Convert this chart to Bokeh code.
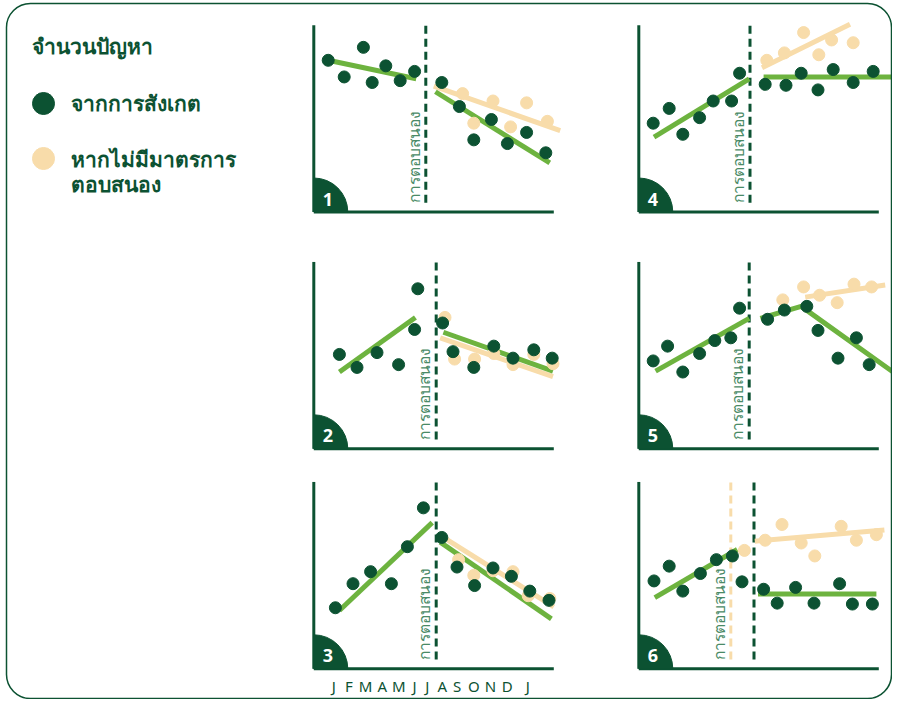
import math
from bokeh.plotting import figure
from bokeh.models import Range1d, BoxAnnotation
from bokeh.core.properties import value
from bokeh.embed import file_html
from bokeh.resources import INLINE

DARK = "#0c5232"
GREEN = "#6db33f"
PEACH = "#f8dcaa"
LABEL = "#4a8a66"
FONT = "Noto Sans"

# ---------------- data ----------------
legend_title = "จำนวนปัญหา"
legend_obs = "จากการสังเกต"
legend_cf = ["หากไม่มีมาตรการ", "ตอบสนอง"]
response_label = "การตอบสนอง"

month_labels = ["J", "F", "M", "A", "M", "J", "J", "A", "S", "O", "N", "D", "J"]
month_pos = [1.25, 2.19, 3.23, 4.28, 5.31, 6.29, 7.09, 8.03, 8.96, 10.0, 11.04, 12.09, 13.38]

# panel 1
p1_obs_x = [0.9, 1.9, 3.1, 3.65, 4.5, 5.4, 6.3, 8.0, 9.1, 10.0, 11.1, 12.1, 13.3, 14.5]
p1_obs_y = [8.2, 7.3, 8.9, 7.0, 7.9, 7.1, 7.6, 7.0, 5.7, 3.9, 5.0, 3.7, 4.3, 3.2]
p1_cf_x = [9.3, 10.0, 11.2, 12.3, 13.3, 14.6]
p1_cf_y = [6.4, 4.8, 6.0, 4.6, 5.9, 4.9]
p1_pre_x, p1_pre_y = [0.9, 6.4], [8.2, 7.2]
p1_post_x, p1_post_y = [7.6, 14.75], [6.5, 2.65]
p1_cfl_x, p1_cfl_y = [7.5, 15.4], [6.8, 4.4]
p1_resp = 7.0

# panel 2
p2_obs_x = [1.6, 2.7, 3.95, 5.3, 6.3, 6.5, 8.05, 8.7, 10.0, 11.25, 12.45, 13.75, 14.9]
p2_obs_y = [5.1, 4.4, 5.2, 4.55, 6.45, 8.65, 6.8, 5.25, 4.4, 5.55, 4.9, 5.35, 4.9]
p2_cf_x = [8.2, 8.8, 10.05, 11.25, 12.45, 13.75, 14.95]
p2_cf_y = [7.1, 4.85, 4.85, 5.15, 4.55, 5.1, 4.6]
p2_pre_x, p2_pre_y = [1.6, 6.35], [4.15, 7.1]
p2_post_x, p2_post_y = [8.1, 14.95], [6.3, 4.2]
p2_cfl_x, p2_cfl_y = [7.9, 14.95], [6.0, 3.9]
p2_resp = 7.65

# panel 3
p3_obs_x = [1.35, 2.45, 3.55, 4.85, 5.85, 6.85, 8.0, 8.95, 10.05, 11.2, 12.35, 13.5, 14.7]
p3_obs_y = [3.3, 4.6, 5.25, 4.6, 6.6, 8.7, 7.1, 5.5, 4.5, 5.45, 5.0, 4.2, 3.7]
p3_cf_x = [9.05, 10.0, 11.2, 12.45, 13.4, 14.75]
p3_cf_y = [5.9, 5.05, 5.3, 5.25, 3.95, 3.8]
p3_pre_x, p3_pre_y = [1.6, 7.4], [3.15, 7.9]
p3_post_x, p3_post_y = [7.9, 14.85], [6.85, 2.7]
p3_cfl_x, p3_cfl_y = [8.1, 15.0], [7.1, 3.35]
p3_resp = 7.65

# panel 4
p4_obs_x = [0.9, 1.9, 2.75, 3.8, 4.65, 5.8, 6.3, 7.9, 9.2, 10.15, 11.2, 12.15, 13.4, 14.65]
p4_obs_y = [4.8, 5.6, 4.2, 5.1, 6.0, 6.0, 7.5, 6.9, 6.85, 7.5, 6.6, 7.7, 7.0, 7.6]
p4_cf_x = [8.0, 9.1, 10.3, 11.25, 12.05, 13.4]
p4_cf_y = [8.2, 8.6, 9.7, 8.5, 9.3, 9.15]
p4_pre_x, p4_pre_y = [0.95, 6.9], [4.05, 7.2]
p4_post_x, p4_post_y = [7.8, 15.85], [7.3, 7.3]
p4_cfl_x, p4_cfl_y = [7.7, 13.2], [7.8, 10.15]
p4_resp = 6.95

# panel 5
p5_obs_x = [0.9, 1.8, 2.75, 3.8, 4.75, 5.75, 6.3, 8.05, 9.1, 10.5, 11.2, 12.45, 13.6, 14.4]
p5_obs_y = [4.75, 5.55, 4.15, 5.15, 5.85, 6.0, 7.6, 7.0, 7.5, 7.7, 6.4, 4.9, 6.0, 4.55]
p5_cf_x = [9.0, 10.3, 11.3, 12.4, 13.45, 14.55]
p5_cf_y = [8.05, 8.75, 8.3, 7.9, 8.9, 8.75]
p5_pre_x, p5_pre_y = [1.05, 6.9], [4.2, 7.05]
p5_post_x, p5_post_y = [7.6, 10.15, 16.05], [7.05, 7.7, 4.05]
p5_cfl_x, p5_cfl_y = [10.4, 15.4], [8.2, 8.85]
p5_resp = 6.9

# panel 6
p6_obs_x = [0.95, 1.9, 2.75, 3.85, 4.85, 5.85, 6.45, 7.8, 8.65, 9.8, 10.95, 12.55, 13.35, 14.6]
p6_obs_y = [4.75, 5.55, 4.2, 5.15, 5.9, 6.1, 4.7, 4.3, 3.55, 4.4, 3.55, 4.6, 3.5, 3.5]
p6_cf_x = [6.6, 7.9, 8.95, 10.15, 11.0, 12.65, 13.6, 14.85]
p6_cf_y = [6.4, 6.95, 7.8, 6.8, 6.1, 7.7, 6.95, 7.25]
p6_pre_x, p6_pre_y = [1.0, 6.15], [3.85, 6.45]
p6_post_x, p6_post_y = [7.45, 14.85], [4.05, 4.05]
p6_cfl_x, p6_cfl_y = [7.25, 15.35], [6.9, 7.5]
p6_resp = 7.2
p6_cf_resp = 5.75

AXIS_X_END = 15.0
AXIS_Y_END = 10.1

# ---------------- layout ----------------
W, H = 892, 699
XU, YU = 16.0, 18.5  # pixels per data unit in panels

p = figure(width=W, height=H, x_range=Range1d(0, W), y_range=Range1d(H, 0),
           x_axis_type=None, y_axis_type=None, min_border=0,
           toolbar_location=None, output_backend="svg")
p.outline_line_color = None
p.grid.visible = False
p.background_fill_color = "white"
p.border_fill_color = "white"

p.add_layout(BoxAnnotation(left=6, right=W - 1, top=3, bottom=H - 1,
                           fill_color=None, fill_alpha=0, line_color=DARK, line_alpha=1,
                           line_width=1.5, border_radius=24))

# legend (page layout)
LFS = "21px"
p.text(x=[31], y=[45], text=[legend_title], text_font=value(FONT), text_font_style="bold",
       text_font_size=LFS, text_color=DARK, text_baseline="middle")
p.scatter(x=[43], y=[103], size=22, color=DARK)
p.text(x=[70], y=[102], text=[legend_obs], text_font=value(FONT), text_font_style="bold",
       text_font_size=LFS, text_color=DARK, text_baseline="middle")
p.scatter(x=[43], y=[158], size=22, color=PEACH)
p.text(x=[70, 70], y=[158, 183], text=legend_cf, text_font=value(FONT), text_font_style="bold",
       text_font_size=LFS, text_color=DARK, text_baseline="middle")

panels = [
    ("1", 313.3, 211.5, p1_obs_x, p1_obs_y, p1_cf_x, p1_cf_y, [(p1_pre_x, p1_pre_y), (p1_post_x, p1_post_y)], (p1_cfl_x, p1_cfl_y), p1_resp, None),
    ("2", 313.3, 448.3, p2_obs_x, p2_obs_y, p2_cf_x, p2_cf_y, [(p2_pre_x, p2_pre_y), (p2_post_x, p2_post_y)], (p2_cfl_x, p2_cfl_y), p2_resp, None),
    ("3", 313.3, 668.3, p3_obs_x, p3_obs_y, p3_cf_x, p3_cf_y, [(p3_pre_x, p3_pre_y), (p3_post_x, p3_post_y)], (p3_cfl_x, p3_cfl_y), p3_resp, None),
    ("4", 638.3, 211.5, p4_obs_x, p4_obs_y, p4_cf_x, p4_cf_y, [(p4_pre_x, p4_pre_y), (p4_post_x, p4_post_y)], (p4_cfl_x, p4_cfl_y), p4_resp, None),
    ("5", 638.3, 448.3, p5_obs_x, p5_obs_y, p5_cf_x, p5_cf_y, [(p5_pre_x, p5_pre_y), (p5_post_x, p5_post_y)], (p5_cfl_x, p5_cfl_y), p5_resp, None),
    ("6", 638.3, 668.3, p6_obs_x, p6_obs_y, p6_cf_x, p6_cf_y, [(p6_pre_x, p6_pre_y), (p6_post_x, p6_post_y)], (p6_cfl_x, p6_cfl_y), p6_resp, p6_cf_resp),
]

for (num, ox, oy, ox_, oy_, cx, cy, trends, cfl, resp, cfresp) in panels:
    fx, fy = ox, oy
    xr, yr = "x" + num, "y" + num
    p.extra_x_ranges[xr] = Range1d(-fx / XU, (W - fx) / XU)
    p.extra_y_ranges[yr] = Range1d(-(H - fy) / YU, fy / YU)
    kw = dict(x_range_name=xr, y_range_name=yr)

    # response markers
    if cfresp is not None:
        p.segment(x0=[cfresp], y0=[0.5], x1=[cfresp], y1=[AXIS_Y_END], line_color=PEACH,
                  line_width=3, line_dash="8 5", **kw)
        lab_x = cfresp
    else:
        lab_x = resp
    p.segment(x0=[resp], y0=[0.5], x1=[resp], y1=[AXIS_Y_END], line_color=DARK,
              line_width=3, line_dash="8 5", **kw)
    p.text(x=[lab_x], y=[0.5], text=[response_label], angle=math.pi / 2, x_offset=-12,
           text_font=value(FONT), text_font_size="15.5px", text_color=LABEL,
           text_align="left", text_baseline="middle", **kw)

    # trend lines
    p.line(cfl[0], cfl[1], line_color=PEACH, line_width=5, **kw)
    for tx, ty in trends:
        p.line(tx, ty, line_color=GREEN, line_width=5, **kw)

    # points
    p.scatter(cx, cy, size=12, color=PEACH, **kw)
    p.scatter(ox_, oy_, size=12, color=DARK, **kw)

    # axes
    p.segment(x0=[0, 0], y0=[0, 0], x1=[0, AXIS_X_END], y1=[AXIS_Y_END, 0],
              line_color=DARK, line_width=3, **kw)

    # number badge
    p.wedge(x=[0], y=[0], radius=34, radius_units="screen", start_angle=0,
            end_angle=math.pi / 2, color=DARK, **kw)
    p.text(x=[0], y=[0], text=[num], x_offset=14, y_offset=-13, text_font=value(FONT),
           text_font_style="bold", text_font_size="18px", text_color="white",
           text_align="center", text_baseline="middle", **kw)

    if num == "3":
        p.text(x=month_pos, y=[0] * len(month_pos), text=month_labels, y_offset=17,
               text_font=value(FONT), text_font_size="15px", text_color=DARK,
               text_align="center", text_baseline="middle", **kw)

open("out.html", "w").write(file_html(p, INLINE))
